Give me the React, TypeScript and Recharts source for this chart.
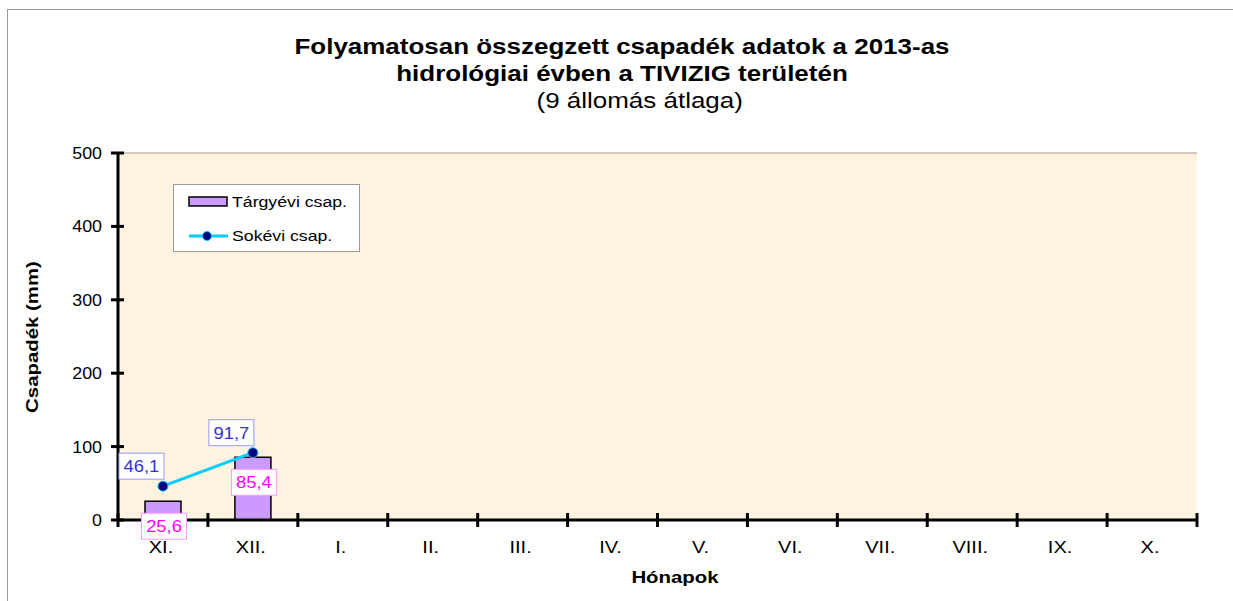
import { ComposedChart, Bar, Line, XAxis, YAxis, CartesianGrid, LabelList } from "recharts";

const months = ["XI.", "XII.", "I.", "II.", "III.", "IV.", "V.", "VI.", "VII.", "VIII.", "IX.", "X."];
const targyevi: (number | null)[] = [25.6, 85.4, null, null, null, null, null, null, null, null, null, null];
const sokevi: (number | null)[] = [46.1, 91.7, null, null, null, null, null, null, null, null, null, null];
const yTicks = [0, 100, 200, 300, 400, 500];

const data = months.map((m, i) => ({ month: m, targyevi: targyevi[i], sokevi: sokevi[i] }));

const FONT = "Arial, 'Liberation Sans', sans-serif";
const BAND = (1197 - 118) / months.length;
const SX = 1.18;

const fmt = (v: number) => v.toFixed(1).replace(".", ",");

function SText(props: any) {
  const { x, y, children, anchor = "middle", size = 16, fill = "#000", weight = "normal", sx = SX } = props;
  return (
    <text
      transform={`translate(${x},${y}) scale(${sx},1)`}
      textAnchor={anchor}
      fontSize={size}
      fontFamily={FONT}
      fontWeight={weight}
      fill={fill}
    >
      {children}
    </text>
  );
}

function YTick(props: any) {
  const { x, y, payload } = props;
  return (
    <g>
      <line x1={x - 7} x2={x + 6} y1={y} y2={y} stroke="#000" strokeWidth={3} />
      <SText x={x - 16} y={y + 6} anchor="end" size={17} sx={1.05}>
        {payload.value}
      </SText>
    </g>
  );
}

function XTick(props: any) {
  const { x, y, payload, index } = props;
  const left = x - BAND / 2;
  const right = x + BAND / 2;
  return (
    <g>
      <line x1={left} x2={left} y1={y - 7} y2={y + 7} stroke="#000" strokeWidth={3} />
      {index === months.length - 1 && (
        <line x1={right} x2={right} y1={y - 7} y2={y + 7} stroke="#000" strokeWidth={3} />
      )}
      <SText x={x - 2} y={y + 33} size={17}>
        {payload.value}
      </SText>
    </g>
  );
}

function BarLabel(props: any) {
  const { x, y, width, value } = props;
  if (value == null) return null;
  const cx = x + width / 2 + 1;
  const top = y + 12;
  return (
    <g>
      <rect x={cx - 22.5} y={top} width={45} height={26} fill="#fff" stroke="#FF99FF" strokeWidth={1} />
      <SText x={cx} y={top + 19} size={17} fill="#FF00FF" sx={1.08}>
        {fmt(value)}
      </SText>
    </g>
  );
}

function LineLabel(props: any) {
  const { x, y, value } = props;
  if (value == null) return null;
  const right = x + 1;
  const bottom = y - 7;
  return (
    <g>
      <rect x={right - 45} y={bottom - 26} width={45} height={26} fill="#fff" stroke="#9999FF" strokeWidth={1} />
      <SText x={right - 22.5} y={bottom - 7} size={17} fill="#3333CC" sx={1.08}>
        {fmt(value)}
      </SText>
    </g>
  );
}

function LegendBox() {
  return (
    <svg width={187} height={68} style={{ position: "absolute", left: 173, top: 184 }}>
      <rect x={0.5} y={0.5} width={186} height={67} fill="#fff" stroke="#999" strokeWidth={1} />
      <rect x={16} y={13} width={38} height={9} fill="#CC99FF" stroke="#000" strokeWidth={1.5} />
      <SText x={59} y={23} anchor="start" size={15} sx={1.18}>Tárgyévi csap.</SText>
      <line x1={16} x2={55} y1={52} y2={52} stroke="#00CCFF" strokeWidth={3} />
      <circle cx={34} cy={52} r={4.5} fill="#000080" stroke="#00CCFF" strokeWidth={1} />
      <SText x={59} y={57} anchor="start" size={15} sx={1.18}>Sokévi csap.</SText>
    </svg>
  );
}

export default function App() {
  return (
    <div style={{ position: "absolute", left: 0, top: 0, width: 1233, height: 601, background: "#fff", overflow: "hidden" }}>
      <div
        style={{
          position: "absolute",
          left: 7,
          top: 9,
          width: 1240,
          height: 610,
          border: "1.5px solid #999",
          boxSizing: "border-box",
        }}
      />
      <div
        style={{
          position: "absolute",
          left: 0,
          top: 33,
          width: 1244,
          textAlign: "center",
          fontFamily: FONT,
          fontSize: 22,
          lineHeight: "27px",
          color: "#000",
          transform: `scale(${SX},1)`,
          transformOrigin: "622px 0",
        }}
      >
        <div style={{ fontWeight: "bold" }}>Folyamatosan összegzett csapadék adatok a 2013-as</div>
        <div style={{ fontWeight: "bold" }}>hidrológiai évben a TIVIZIG területén</div>
        <div style={{ paddingLeft: 30 }}>(9 állomás átlaga)</div>
      </div>
      <div style={{ position: "absolute", left: 0, top: 0 }}>
        <ComposedChart
          width={1233}
          height={601}
          data={data}
          margin={{ top: 153, right: 36, bottom: 0, left: 0 }}
          barCategoryGap="30%"
        >
          <CartesianGrid vertical={false} stroke="#A09A90" fill="#FDF3DE" />
          <XAxis
            dataKey="month"
            axisLine={{ stroke: "#000", strokeWidth: 3 }}
            tickLine={false}
            tickSize={0}
            tickMargin={0}
            tick={<XTick />}
            interval={0}
            height={81}
          />
          <YAxis
            yAxisId="left"
            domain={[0, 500]}
            ticks={yTicks}
            axisLine={{ stroke: "#000", strokeWidth: 3 }}
            tickLine={false}
            tickSize={0}
            tickMargin={0}
            tick={<YTick />}
            width={118}
          />
          <YAxis yAxisId="right" orientation="right" width={0} axisLine={{ stroke: "#999", strokeWidth: 1.5 }} tick={false} tickLine={false} domain={[0, 500]} />
          <Bar yAxisId="left" dataKey="targyevi" fill="#CC99FF" stroke="#000" strokeWidth={1.5} barSize={36} isAnimationActive={false}>
            <LabelList dataKey="targyevi" content={<BarLabel />} />
          </Bar>
          <Line
            yAxisId="left"
            dataKey="sokevi"
            stroke="#00CCFF"
            strokeWidth={3}
            dot={{ r: 5, fill: "#000080", stroke: "#00CCFF", strokeWidth: 1 }}
            activeDot={false}
            isAnimationActive={false}
          >
            <LabelList dataKey="sokevi" content={<LineLabel />} />
          </Line>
        </ComposedChart>
      </div>
      <svg width={1233} height={601} style={{ position: "absolute", left: 0, top: 0, pointerEvents: "none" }}>
        <SText x={675} y={583} size={17} weight="bold" sx={1.2}>Hónapok</SText>
        <g transform="translate(38,337) rotate(-90)">
          <SText x={0} y={0} size={17} weight="bold" sx={1.2}>Csapadék (mm)</SText>
        </g>
      </svg>
      <LegendBox />
    </div>
  );
}
